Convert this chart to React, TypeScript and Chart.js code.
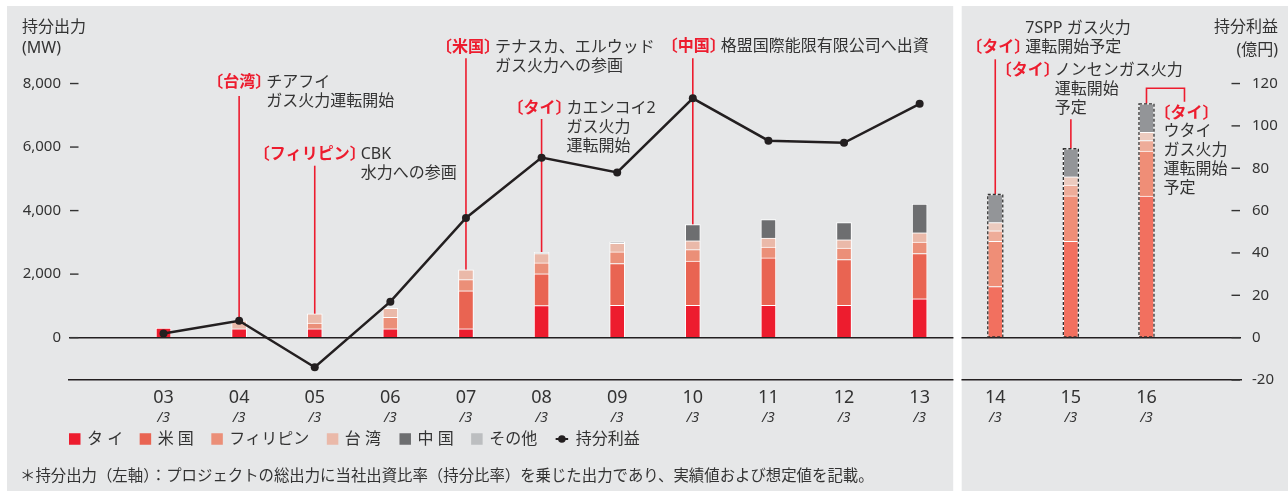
import React, { useEffect, useRef } from 'react';
import { Chart, registerables } from 'chart.js';

Chart.register(...registerables);

// ---------- data ----------
const fiscalYears = ['03', '04', '05', '06', '07', '08', '09', '10', '11', '12', '13', '14', '15', '16'];
const fiscalMonth = '/3';
const firstForecastIndex = 11;

const seriesNames = ['タ イ', '米 国', 'フィリピン', '台 湾', '中 国', 'その他'];
const thailand = [300, 280, 280, 280, 280, 1010, 1017, 1017, 1017, 1017, 1224, 1610, 3030, 4460];
const unitedStates = [null, null, null, null, 1193, 1000, 1318, 1390, 1494, 1442, 1424, 1422, 1432, 1414];
const philippines = [null, null, 177, 363, 353, 343, 363, 363, 342, 363, 363, 333, 342, 333];
const taiwan = [null, 250, 290, 280, 311, 290, 270, 280, 280, 259, 290, 260, 260, 260];
const china = [null, null, null, null, null, null, null, 508, 581, 540, 903, 882, 882, 893];
const others = [null, null, null, null, null, 40, 50, null, null, null, null, null, null, null];

const lineLabel = '持分利益';
const equityIncome = [2, 8, -14, 17, 56.5, 85, 78, 113, 93, 92, 110.4];

const leftTicks = [0, 2000, 4000, 6000, 8000];
const rightTicks = [-20, 0, 20, 40, 60, 80, 100, 120];

const leftTitle = ['持分出力', '(MW)'];
const rightTitle = ['持分利益', '(億円)'];
const footnote = '＊持分出力（左軸）：プロジェクトの総出力に当社出資比率（持分比率）を乗じた出力であり、実績値および想定値を記載。';

const annotations = [
  { index: 1, tag: '〔台湾〕', lines: ['チアフイ', 'ガス火力運転開始'], dx: 27, y: 82.7, tagRow: 0, lineTop: 96 },
  { index: 2, tag: '〔フィリピン〕', lines: ['CBK', '水力への参画'], dx: 46, y: 154.3, tagRow: 0, lineTop: 165.7 },
  { index: 4, tag: '〔米国〕', lines: ['テナスカ、エルウッド', 'ガス火力への参画'], dx: 29, y: 47.3, tagRow: 0, lineTop: 58.3 },
  { index: 5, tag: '〔タイ〕', lines: ['カエンコイ2', 'ガス火力', '運転開始'], dx: 25, y: 108.3, tagRow: 0, lineTop: 119 },
  { index: 7, tag: '〔中国〕', lines: ['格盟国際能限有限公司へ出資'], dx: 28, y: 46.7, tagRow: 0, lineTop: 58.3 },
  { index: 11, tag: '〔タイ〕', lines: ['7SPP ガス火力', '運転開始予定'], dx: 30, y: 28.3, tagRow: 1, lineTop: 59.3 },
  { index: 12, tag: '〔タイ〕', lines: ['ノンセンガス火力', '運転開始', '予定'], dx: -16, y: 70.7, tagRow: 0, lineTop: 119.3 },
  { index: 13, tag: '〔タイ〕', lines: ['ウタイ', 'ガス火力', '運転開始', '予定'], dx: 17, y: 131.5, tagY: 113.3, elbowDx: 38, elbowY: 88.3, lineTop: 101.7 },
];

// ---------- styles ----------
const pastColors = ['#ed1c2e', '#e96452', '#eb8f78', '#eab9a9', '#6d6e70', '#bcbec0'];
const futureColors = ['#f2705f', '#ef8e77', '#eeac99', '#eccbbf', '#939598', '#bcbec0'];
const RED = '#ed1c2e';
const TEXT = '#333333';
const INK = '#231f20';
const PANEL = '#e6e7e8';
const CJK = "'Noto Sans', 'Noto Sans CJK JP', sans-serif";
const LINE_STEP = 19;

const seriesValues = [thailand, unitedStates, philippines, taiwan, china, others];

function stackTopPixel(chart: any, index: number): number {
  for (let d = seriesValues.length - 1; d >= 0; d--) {
    const v = seriesValues[d][index];
    if (v !== null && v !== undefined) {
      const el = chart.getDatasetMeta(d + 1).data[index];
      return el.y;
    }
  }
  return chart.scales.y.getPixelForValue(0);
}

const decorPlugin = {
  id: 'decor',
  beforeDraw(chart: any) {
    const { ctx, width, height } = chart;
    const mid = chart.scales.x.getPixelForValue(10.5);
    ctx.save();
    ctx.fillStyle = '#ffffff';
    ctx.fillRect(0, 0, width, height);
    ctx.fillStyle = PANEL;
    ctx.fillRect(7, 6, mid - 4 - 7, height - 6);
    ctx.fillRect(mid + 4, 6, width - mid - 4, height - 6);
    ctx.restore();
  },
  beforeDatasetsDraw(chart: any) {
    const { ctx, chartArea, height } = chart;
    const xs = chart.scales.x;
    const mid = xs.getPixelForValue(10.5);
    ctx.save();
    // tick dashes
    ctx.strokeStyle = TEXT;
    ctx.lineWidth = 1.4;
    for (const t of chart.scales.y.ticks) {
      const y = chart.scales.y.getPixelForValue(t.value);
      ctx.beginPath();
      ctx.moveTo(chartArea.left + 1, y);
      ctx.lineTo(chartArea.left + 9.5, y);
      ctx.stroke();
    }
    for (const t of chart.scales.y1.ticks) {
      const y = chart.scales.y1.getPixelForValue(t.value);
      ctx.beginPath();
      ctx.moveTo(chartArea.right - 9.5, y);
      ctx.lineTo(chartArea.right - 1, y);
      ctx.stroke();
    }
    // white strip between panels
    ctx.fillStyle = '#ffffff';
    ctx.fillRect(mid - 4, 0, 8, height);

    // annotations
    for (const a of annotations) {
      const cx = xs.getPixelForValue(a.index);
      const top = stackTopPixel(chart, a.index);
      ctx.strokeStyle = RED;
      ctx.lineWidth = 1.6;
      ctx.beginPath();
      if (a.elbowDx !== undefined) {
        ctx.moveTo(cx, top);
        ctx.lineTo(cx, a.elbowY);
        ctx.lineTo(cx + a.elbowDx, a.elbowY);
        ctx.lineTo(cx + a.elbowDx, a.lineTop);
      } else {
        ctx.moveTo(cx, a.lineTop);
        ctx.lineTo(cx, top);
      }
      ctx.stroke();
      const tx = cx + a.dx;
      ctx.textBaseline = 'middle';
      ctx.textAlign = 'left';
      ctx.font = `16px ${CJK}`;
      ctx.fillStyle = TEXT;
      a.lines.forEach((t: string, k: number) => ctx.fillText(t, tx, a.y + k * LINE_STEP));
      ctx.font = `bold 16px ${CJK}`;
      ctx.fillStyle = RED;
      const m = ctx.measureText(a.tag);
      if (a.tagY !== undefined) {
        ctx.fillText(a.tag, tx + 2 + m.actualBoundingBoxLeft, a.tagY);
      } else {
        ctx.fillText(a.tag, tx - 6 - m.actualBoundingBoxRight, a.y + a.tagRow * LINE_STEP);
      }
    }
    ctx.restore();
  },
  afterDatasetsDraw(chart: any) {
    const { ctx } = chart;
    ctx.save();
    ctx.strokeStyle = '#333333';
    ctx.lineWidth = 1.3;
    ctx.setLineDash([3, 2]);
    for (let i = firstForecastIndex; i < fiscalYears.length; i++) {
      const el0 = chart.getDatasetMeta(1).data[i];
      const top = stackTopPixel(chart, i);
      const x0 = el0.x - el0.width / 2;
      ctx.strokeRect(x0, top, el0.width, el0.base - top);
    }
    ctx.restore();
  },
  afterDraw(chart: any) {
    const { ctx, chartArea, width } = chart;
    ctx.save();
    ctx.fillStyle = TEXT;
    ctx.textBaseline = 'middle';
    ctx.font = `16px ${CJK}`;
    ctx.textAlign = 'left';
    ctx.fillText(leftTitle[0], 22, 27);
    ctx.fillText(leftTitle[1], 22, 48);
    ctx.textAlign = 'right';
    ctx.fillText(rightTitle[0], width - 10, 27);
    ctx.fillText(rightTitle[1], width - 10, 50);

    // legend
    ctx.textAlign = 'left';
    ctx.font = `16px ${CJK}`;
    const ly = 439;
    let lx = chartArea.left;
    seriesNames.forEach((name, i) => {
      ctx.fillStyle = pastColors[i];
      ctx.fillRect(lx, ly - 5.75, 11.5, 11.5);
      lx += 18;
      ctx.fillStyle = TEXT;
      ctx.fillText(name, lx, ly);
      lx += ctx.measureText(name).actualBoundingBoxRight + 18.5;
    });
    ctx.strokeStyle = INK;
    ctx.lineWidth = 2;
    ctx.beginPath();
    ctx.moveTo(lx, ly);
    ctx.lineTo(lx + 12.5, ly);
    ctx.stroke();
    ctx.fillStyle = INK;
    ctx.beginPath();
    ctx.arc(lx + 6.25, ly, 3.8, 0, Math.PI * 2);
    ctx.fill();
    lx += 20;
    ctx.fillStyle = TEXT;
    ctx.fillText(lineLabel, lx, ly);

    // footnote
    ctx.font = `15.4px ${CJK}`;
    ctx.fillText(footnote, 20, 477);
    ctx.restore();
  },
};

export default function App() {
  const ref = useRef<HTMLCanvasElement | null>(null);

  useEffect(() => {
    if (!ref.current) return;
    const barSets = seriesValues.map((vals, d) => ({
      type: 'bar' as const,
      label: seriesNames[d],
      data: vals.map((v, i) => ({ x: i, y: v })),
      backgroundColor: (c: any) => (c.dataIndex >= firstForecastIndex ? futureColors[d] : pastColors[d]),
      borderColor: '#ffffff',
      borderWidth: 1,
      barThickness: 15,
      stack: 'mw',
      yAxisID: 'y',
      xAxisID: 'x',
      order: 1,
    }));
    const lineSet = {
      type: 'line' as const,
      label: lineLabel,
      data: equityIncome.map((v, i) => ({ x: i, y: v })),
      borderColor: INK,
      backgroundColor: INK,
      borderWidth: 2.5,
      pointRadius: 4,
      pointBackgroundColor: INK,
      pointBorderWidth: 0,
      yAxisID: 'y1',
      xAxisID: 'x',
      order: 0,
      tension: 0,
    };
    const setTicks = (vals: number[]) => (s: any) => {
      s.ticks = vals.map((v) => ({ value: v }));
    };
    const chart = new Chart(ref.current, {
      type: 'bar',
      data: { datasets: [lineSet as any, ...barSets] },
      plugins: [decorPlugin],
      options: {
        responsive: false,
        animation: false,
        devicePixelRatio: 1,
        layout: { padding: { top: 17, left: 0, right: 0, bottom: 0 } },
        plugins: { legend: { display: false }, tooltip: { enabled: false } },
        scales: {
          x: {
            type: 'linear',
            position: 'bottom',
            min: -1.25,
            max: 14.25,
            offset: false,
            stacked: true,
            grid: { display: false, drawTicks: false },
            border: { display: true, color: INK, width: 1.5 },
            afterBuildTicks: setTicks(fiscalYears.map((_, i) => i)),
            afterFit: (s: any) => { s.height = 30; },
            ticks: {
              autoSkip: false,
              maxRotation: 0,
              padding: 7,
              color: TEXT,
              font: { family: CJK, size: 18 },
              callback: (v: any) => fiscalYears[v as number] ?? '',
            },
          },
          x2: {
            type: 'linear',
            position: 'bottom',
            min: -1.25,
            max: 14.25,
            offset: false,
            weight: 1,
            grid: { display: false, drawTicks: false },
            border: { display: false },
            afterBuildTicks: setTicks(fiscalYears.map((_, i) => i)),
            afterFit: (s: any) => { s.height = 81; },
            ticks: {
              autoSkip: false,
              maxRotation: 0,
              padding: 0,
              color: TEXT,
              font: { family: CJK, size: 14, style: 'italic' },
              callback: () => fiscalMonth,
            },
          },
          y: {
            type: 'linear',
            position: 'left',
            min: -4000 / 3,
            max: 10000,
            stacked: true,
            afterBuildTicks: setTicks(leftTicks),
            afterFit: (s: any) => { s.width = 69; },
            border: { display: false },
            grid: {
              drawTicks: false,
              lineWidth: 1.5,
              color: (c: any) => (c.tick && c.tick.value === 0 ? INK : 'rgba(0,0,0,0)'),
            },
            ticks: {
              padding: 8,
              color: TEXT,
              font: { family: CJK, size: 15 },
              callback: (v: any) => Number(v).toLocaleString('en-US'),
            },
          },
          y1: {
            type: 'linear',
            position: 'right',
            min: -20,
            max: 150,
            afterBuildTicks: setTicks(rightTicks),
            afterFit: (s: any) => { s.width = 47; },
            border: { display: false },
            grid: { display: false, drawTicks: false },
            ticks: {
              padding: 11,
              color: TEXT,
              font: { family: CJK, size: 15 },
            },
          },
        },
      } as any,
    });
    return () => chart.destroy();
  }, []);

  return (
    <div style={{ position: 'absolute', left: 0, top: 0 }}>
      <canvas ref={ref} width={1288} height={491} style={{ display: 'block' }} />
    </div>
  );
}
